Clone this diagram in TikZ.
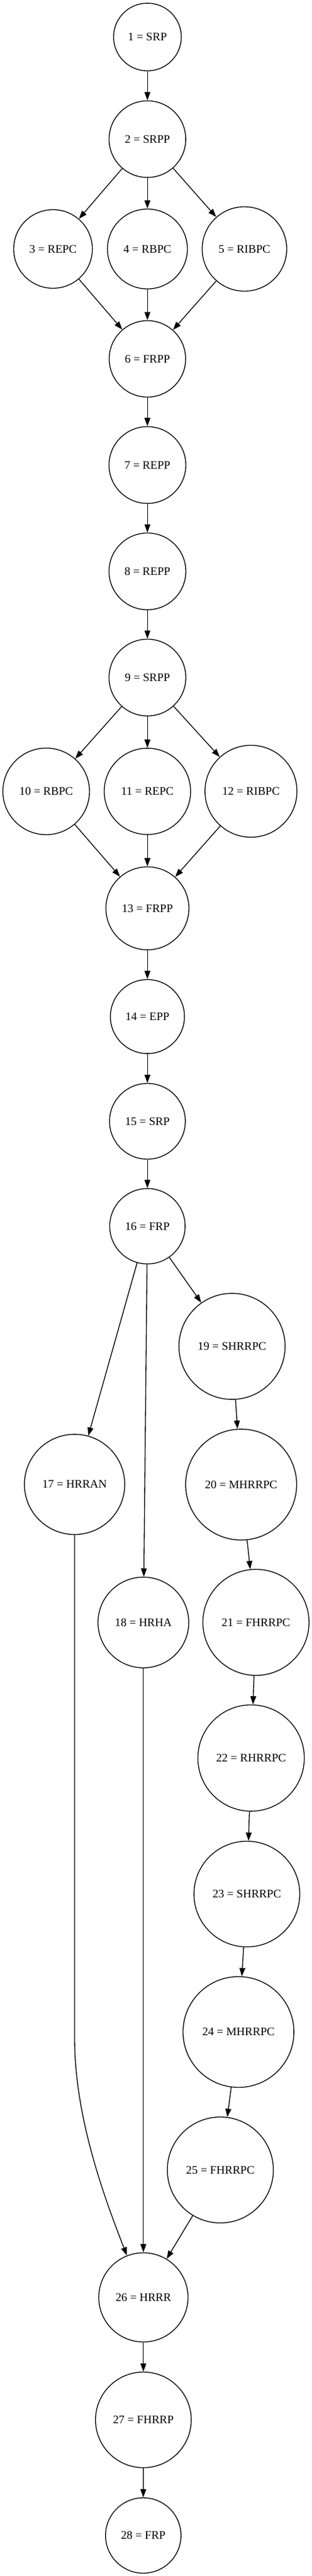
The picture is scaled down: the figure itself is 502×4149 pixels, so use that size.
\documentclass[tikz,border=0pt]{standalone}
\usepackage{fontspec}
\setmainfont{Liberation Serif}
\usetikzlibrary{arrows.meta}
\begin{document}
\begin{tikzpicture}[x=0.75pt,y=-0.75pt,
  gnode/.style={circle,draw,line width=1pt,inner sep=0pt,minimum size=#1,font=\fontsize{14}{16.8}\selectfont},
  arr/.style={line width=1pt,-{Triangle[length=10pt,width=7pt]}}]
\useasboundingbox (0,0) rectangle (502,4149);
\node[gnode=81.75pt]  (n1)  at (237.2,59.6)   {1 = SRP};
\node[gnode=92.55pt]  (n2)  at (237.2,224.1)  {2 = SRPP};
\node[gnode=94.95pt]  (n3)  at (85.3,401)     {3 = REPC};
\node[gnode=96.45pt]  (n4)  at (237.2,401)    {4 = RBPC};
\node[gnode=102pt]    (n5)  at (393.3,401)    {5 = RIBPC};
\node[gnode=92.25pt]  (n6)  at (237.2,578)    {6 = FRPP};
\node[gnode=92.7pt]   (n7)  at (237.2,749)    {7 = REPP};
\node[gnode=92.7pt]   (n8)  at (237.2,920.3)  {8 = REPP};
\node[gnode=92.7pt]   (n9)  at (237.2,1091.3) {9 = SRPP};
\node[gnode=104.55pt] (n10) at (74.3,1274.6)  {10 = RBPC};
\node[gnode=104.25pt] (n11) at (237.2,1274.6) {11 = REPC};
\node[gnode=111pt]    (n12) at (403.8,1274.4) {12 = RIBPC};
\node[gnode=100.2pt]  (n13) at (237.2,1463)   {13 = FRPP};
\node[gnode=89.4pt]   (n14) at (237.2,1637.3) {14 = EPP};
\node[gnode=91.5pt]   (n15) at (237.2,1806)   {15 = SRP};
\node[gnode=91.05pt]  (n16) at (237.2,1975)   {16 = FRP};
\node[gnode=121.05pt] (n17) at (120,2390.8)   {17 = HRRAN};
\node[gnode=109.5pt]  (n18) at (230.7,2613.2) {18 = HRHA};
\node[gnode=128.1pt]  (n19) at (373.3,2168.5) {19 = SHRRPC};
\node[gnode=133.95pt] (n20) at (388,2391.1)   {20 = MHRRPC};
\node[gnode=128.1pt]  (n21) at (411.8,2613)   {21 = FHRRPC};
\node[gnode=128.4pt]  (n22) at (404,2831.5)   {22 = RHRRPC};
\node[gnode=127.65pt] (n23) at (397.2,3050.6) {23 = SHRRPC};
\node[gnode=133.8pt]  (n24) at (383.7,3272.8) {24 = MHRRPC};
\node[gnode=127.95pt] (n25) at (354.5,3495)   {25 = FHRRPC};
\node[gnode=107.7pt]  (n26) at (230.7,3700.2) {26 = HRRR};
\node[gnode=115.5pt]  (n27) at (230.7,3897.5) {27 = FHRRP};
\node[gnode=91.05pt]  (n28) at (230.5,4083.7) {28 = FRP};
\coordinate (c17) at (120,3282);
\coordinate (k1) at (120,3400);
\coordinate (k2) at (160,3520);
\draw[arr] (n1) -- (n2);
\draw[arr] (n2) -- (n3);
\draw[arr] (n2) -- (n4);
\draw[arr] (n2) -- (n5);
\draw[arr] (n3) -- (n6);
\draw[arr] (n4) -- (n6);
\draw[arr] (n5) -- (n6);
\draw[arr] (n6) -- (n7);
\draw[arr] (n7) -- (n8);
\draw[arr] (n8) -- (n9);
\draw[arr] (n9) -- (n10);
\draw[arr] (n9) -- (n11);
\draw[arr] (n9) -- (n12);
\draw[arr] (n10) -- (n13);
\draw[arr] (n11) -- (n13);
\draw[arr] (n12) -- (n13);
\draw[arr] (n13) -- (n14);
\draw[arr] (n14) -- (n15);
\draw[arr] (n15) -- (n16);
\draw[arr] (n16) -- (n17);
\draw[arr] (n16) -- (n18);
\draw[arr] (n16) -- (n19);
\draw[arr] (n19) -- (n20);
\draw[arr] (n20) -- (n21);
\draw[arr] (n21) -- (n22);
\draw[arr] (n22) -- (n23);
\draw[arr] (n23) -- (n24);
\draw[arr] (n24) -- (n25);
\draw[arr] (n17) -- (c17) .. controls (k1) and (k2) .. (n26);
\draw[arr] (n18) -- (n26);
\draw[arr] (n25) -- (n26);
\draw[arr] (n26) -- (n27);
\draw[arr] (n27) -- (n28);
\end{tikzpicture}
\end{document}
